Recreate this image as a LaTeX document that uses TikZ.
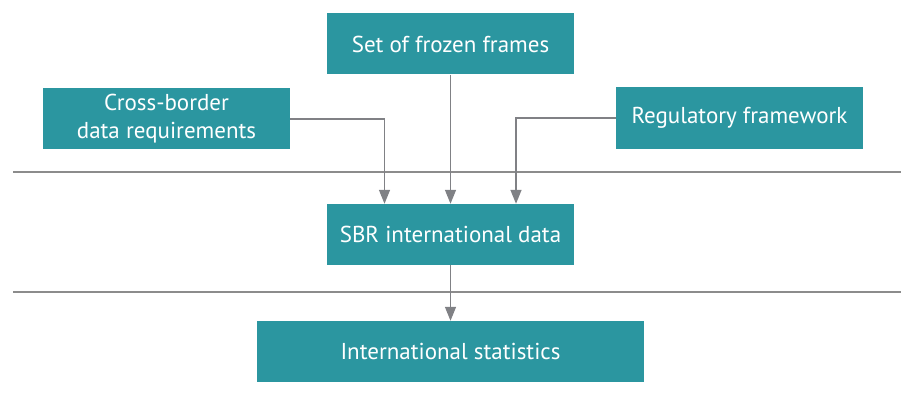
\documentclass[tikz,border=0pt]{standalone}
\usepackage{fontspec}
\setmainfont{PT Sans}
\usetikzlibrary{arrows.meta}
\definecolor{teal1}{RGB}{43,150,160}
\definecolor{sepgray}{RGB}{140,140,140}
\definecolor{arrgray}{RGB}{128,129,133}
\tikzset{
  box/.style={fill=teal1, text=white, inner sep=0pt, align=center,
    font=\fontsize{23}{28}\selectfont},
  sep/.style={draw=sepgray, line width=1.5pt},
  arr/.style={draw=arrgray, line width=1.4pt,
    -{Triangle[width=11pt,length=14pt]}}
}
\begin{document}
\begin{tikzpicture}[x=1pt,y=-1pt]
\useasboundingbox (0,0) rectangle (901,406);
\node[box, minimum width=247pt, minimum height=61pt] (frozen) at (450.5,44) {Set of frozen frames};
\node[box, minimum width=247pt, minimum height=61pt] (cross) at (166.5,119) {Cross-border\\data requirements};
\node[box, minimum width=247pt, minimum height=62pt] (reg) at (739.5,118) {Regulatory framework};
\node[box, minimum width=247pt, minimum height=61pt] (sbr) at (450.5,234.5) {SBR international data};
\node[box, minimum width=387pt, minimum height=61pt] (stats) at (450.5,351.5) {International statistics};
\coordinate (s1a) at (13,172);
\coordinate (s1b) at (901,172);
\coordinate (s2a) at (13,292);
\coordinate (s2b) at (901,292);
\draw[sep] (s1a) -- (s1b);
\draw[sep] (s2a) -- (s2b);
\draw[arr] (frozen.south) -- (sbr.north);
\draw[arr] (cross.east) -| ([xshift=-66pt]sbr.north);
\draw[arr] (reg.west) -| ([xshift=65.5pt]sbr.north);
\draw[arr] (sbr.south) -- (stats.north);
\end{tikzpicture}
\end{document}
